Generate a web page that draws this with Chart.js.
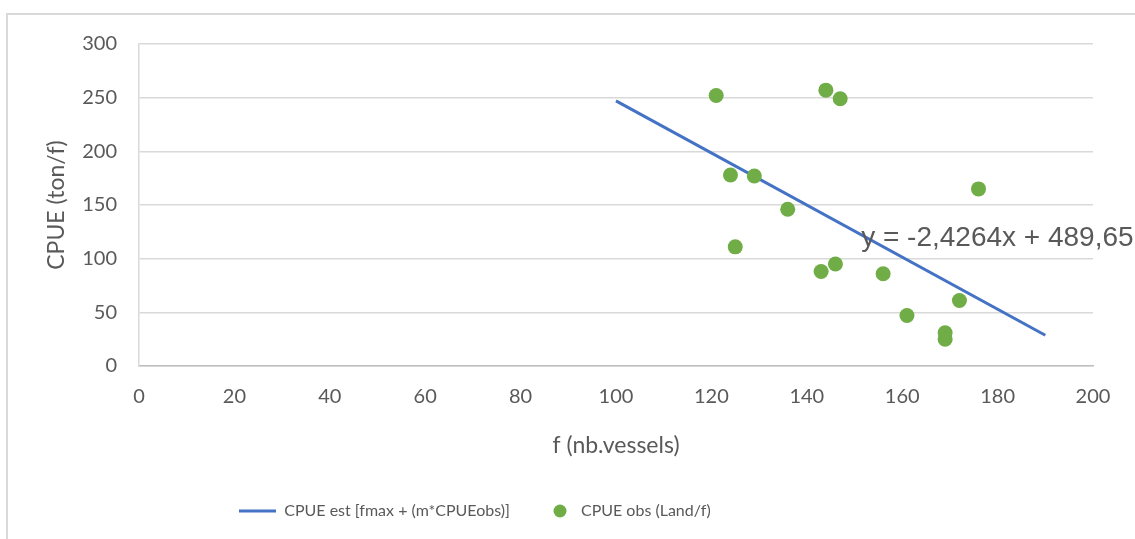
<!DOCTYPE html>
<html>
<head>
<meta charset="utf-8">
<script src="https://cdn.jsdelivr.net/npm/chart.js@4/dist/chart.umd.min.js"></script>
<style>
  html, body { margin: 0; padding: 0; background: #fff; }
  #wrap { position: relative; width: 1135px; height: 539px; }
</style>
</head>
<body>
<div id="wrap"><canvas id="cpueChart" width="1135" height="539"></canvas></div>
<script>
// observed points: effort f (nb. vessels) and CPUE (ton/f)
const effortObs = [121, 144, 147, 124, 129, 176, 136, 125, 143, 146, 156, 172, 161, 169, 169];
const cpueObs   = [252, 257, 249, 178, 177, 165, 146, 111,  88,  95,  86,  61,  47,  31,  25];

// estimated line end points
const effortEst = [100, 190];
const cpueEst   = [247.0, 28.6];

const xTicks = [0, 20, 40, 60, 80, 100, 120, 140, 160, 180, 200];
const yTicks = [0, 50, 100, 150, 200, 250, 300];

const labelEst = 'CPUE est [fmax + (m*CPUEobs)]';
const labelObs = 'CPUE obs (Land/f)';
const trendLabel = 'y = -2,4264x + 489,65';

const textGrey = '#595959';
const blue = '#4472c4';
const green = '#70ad47';

function legendLine() {
    const c = document.createElement('canvas');
    c.width = 37; c.height = 4;
    const g = c.getContext('2d');
    g.fillStyle = blue;
    g.fillRect(0, 0.5, 37, 3);
    return c;
}

function legendDot() {
    const c = document.createElement('canvas');
    c.width = 37; c.height = 14;
    const g = c.getContext('2d');
    g.fillStyle = green;
    g.beginPath();
    g.arc(24, 7, 6.5, 0, Math.PI * 2);
    g.fill();
    return c;
}

const legendStyles = [legendLine(), legendDot()];

// light frame around the chart, cut by the window edge
const framePlugin = {
    id: 'frame',
    beforeDraw(chart) {
        const ctx = chart.ctx;
        ctx.save();
        ctx.fillStyle = '#fff';
        ctx.fillRect(0, 0, chart.width, chart.height);
        ctx.strokeStyle = '#d9d9d9';
        ctx.lineWidth = 2;
        ctx.strokeRect(7, 14, 1300, 700);
        ctx.restore();
    }
};

// trendline equation text
const trendTextPlugin = {
    id: 'trendText',
    afterDatasetsDraw(chart) {
        const ctx = chart.ctx;
        const x = chart.scales.x.getPixelForValue(151.4);
        const y = chart.scales.y.getPixelForValue(119);
        ctx.save();
        ctx.font = '28px "Liberation Sans", Arial, sans-serif';
        ctx.fillStyle = textGrey;
        ctx.textAlign = 'left';
        ctx.textBaseline = 'middle';
        ctx.fillText(trendLabel, x, y);
        ctx.restore();
    }
};

// the legend is centred on the original (wider) chart box
const legendShift = {
    id: 'legendShift',
    afterLayout(chart) {
        const lg = chart.legend;
        lg.left = 0;
        lg.right = 950;
        lg.width = 950;
    }
};

const padBottom = 10;

new Chart(document.getElementById('cpueChart'), {
    type: 'scatter',
    data: {
        datasets: [{
            label: labelEst,
            data: effortEst.map((v, i) => ({ x: v, y: cpueEst[i] })),
            showLine: true,
            borderColor: blue,
            backgroundColor: blue,
            borderWidth: 3,
            pointRadius: 0,
            order: 1
        }, {
            label: labelObs,
            data: effortObs.map((v, i) => ({ x: v, y: cpueObs[i] })),
            backgroundColor: green,
            borderWidth: 0,
            pointRadius: 7.5,
            pointHoverRadius: 7.5,
            order: 0
        }]
    },
    options: {
        responsive: false,
        animation: false,
        layout: { padding: { left: 0, top: 44, right: 42, bottom: padBottom } },
        plugins: {
            tooltip: { enabled: false },
            legend: {
                position: 'bottom',
                labels: {
                    usePointStyle: true,
                    pointStyleWidth: 37,
                    padding: 26,
                    color: textGrey,
                    font: { family: 'Lato', size: 16 },
                    sort: (a, b) => a.datasetIndex - b.datasetIndex,
                    generateLabels(chart) {
                        return Chart.defaults.plugins.legend.labels.generateLabels(chart)
                            .map(it => ({ ...it, pointStyle: legendStyles[it.datasetIndex] }));
                    }
                }
            }
        },
        scales: {
            x: {
                type: 'linear',
                min: 0,
                max: 200,
                afterBuildTicks: s => { s.ticks = xTicks.map(v => ({ value: v })); },
                afterFit: s => {
                    const lh = s.chart.legend ? s.chart.legend.height : 58;
                    s.height = 539 - 366 - padBottom - lh;
                },
                grid: { display: false, drawTicks: false },
                border: { display: true, color: '#bfbfbf', width: 1.5 },
                ticks: { padding: 19, color: textGrey, font: { family: 'Lato', size: 20 } },
                title: {
                    display: true,
                    text: 'f (nb.vessels)',
                    color: textGrey,
                    font: { family: 'Lato', size: 23 },
                    padding: { top: 0, bottom: 18 }
                }
            },
            y: {
                type: 'linear',
                min: 0,
                max: 300,
                afterBuildTicks: s => { s.ticks = yTicks.map(v => ({ value: v })); },
                afterFit: s => { s.width = 139; },
                grid: { color: '#d9d9d9', lineWidth: 1.5, drawTicks: false },
                border: { display: true, color: '#d9d9d9', width: 1.5 },
                ticks: { padding: 22, color: textGrey, font: { family: 'Lato', size: 20 } },
                title: {
                    display: true,
                    text: 'CPUE (ton/f)',
                    color: textGrey,
                    font: { family: 'Lato', size: 23 },
                    padding: { top: 43, bottom: 0 }
                }
            }
        }
    },
    plugins: [framePlugin, trendTextPlugin, legendShift]
});
</script>
</body>
</html>
